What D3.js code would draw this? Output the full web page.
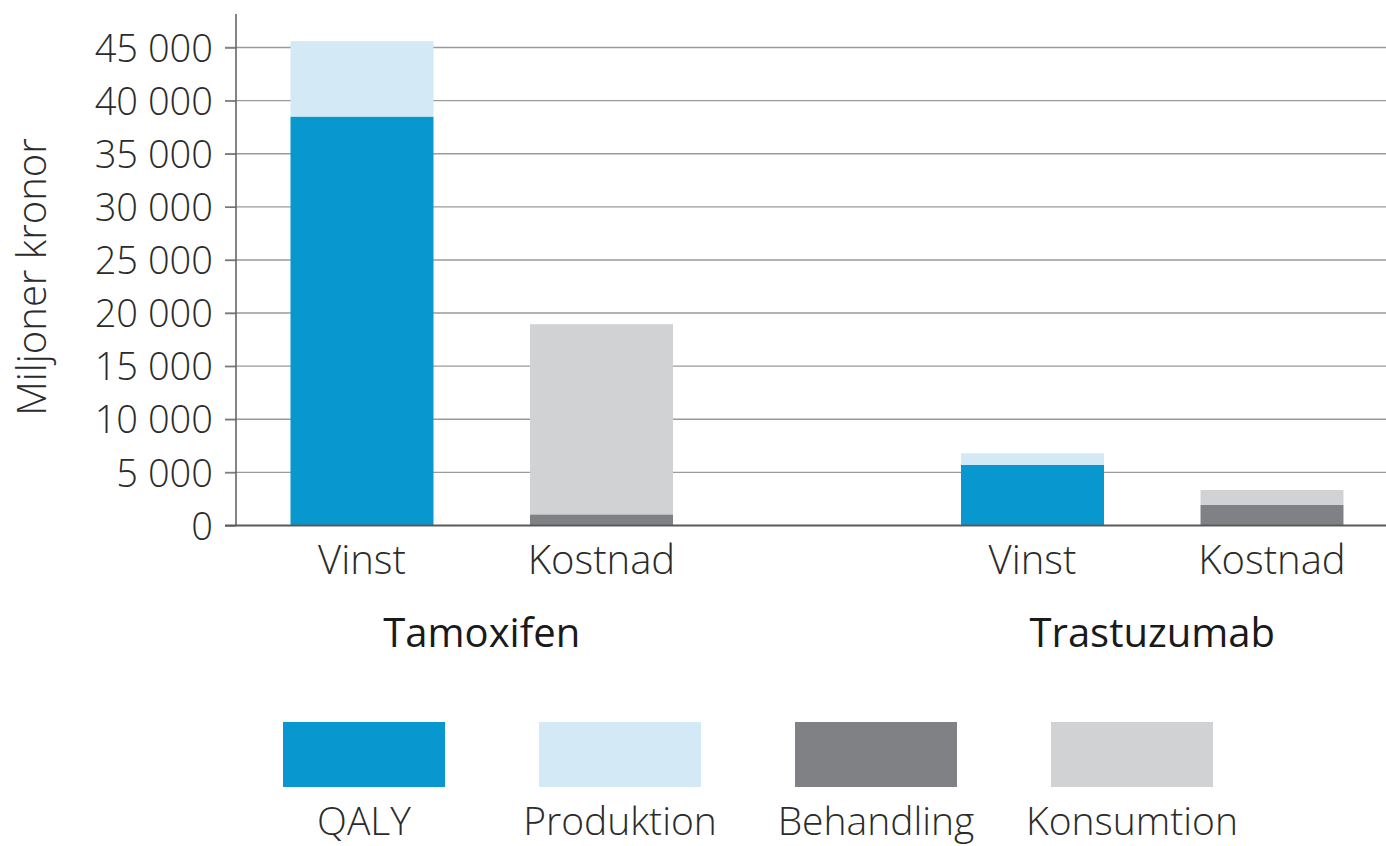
<!DOCTYPE html>
<html>
<head>
<meta charset="utf-8">
<script src="https://cdn.jsdelivr.net/npm/d3@7"></script>
<style>
  html, body { margin: 0; padding: 0; background: #fff; }
  svg { display: block; }
  text { font-family: "Open Sans", sans-serif; }
</style>
</head>
<body>
<svg id="chart" width="1386" height="846"></svg>
<script>
// ---- data ----
const groups = ["Tamoxifen", "Trastuzumab"];
const categories = ["Vinst", "Kostnad"];
const seriesKeys = ["QALY", "Produktion", "Behandling", "Konsumtion"];
// values per bar: Tamoxifen-Vinst, Tamoxifen-Kostnad, Trastuzumab-Vinst, Trastuzumab-Kostnad
const qaly       = [38500,     0, 5700,    0];
const produktion = [ 7100,     0, 1100,    0];
const behandling = [    0,  1050,    0, 1930];
const konsumtion = [    0, 17900,    0, 1410];
const tickValues = [0, 5000, 10000, 15000, 20000, 25000, 30000, 35000, 40000, 45000];
const colors = ["#0898cf", "#d3e9f5", "#808184", "#d1d2d4"];
const yTitle = "Miljoner kronor";

// ---- build rows ----
const rows = [];
groups.forEach((g, gi) => {
  categories.forEach((c, ci) => {
    const i = gi * categories.length + ci;
    rows.push({group: g, cat: c, QALY: qaly[i], Produktion: produktion[i], Behandling: behandling[i], Konsumtion: konsumtion[i]});
  });
});

const svg = d3.select("#chart");
const W = 1386;

const y = d3.scaleLinear().domain([0, 45000]).range([525.5, 47.5]);
const xGroup = d3.scalePoint().domain(groups).range([481.75, 1152.25]);
const xCat = d3.scaleBand().domain(categories).range([-239.5, 239.5]).paddingInner(0.403).paddingOuter(0.2015);

const axisX = 236;

// gridlines
svg.append("g").selectAll("line").data(tickValues.filter(d => d > 0)).join("line")
  .attr("x1", 225).attr("x2", W)
  .attr("y1", d => y(d)).attr("y2", d => y(d))
  .attr("stroke", "#9a9a9a").attr("stroke-width", 1.4);

// y axis
const yAxis = d3.axisLeft(y).tickValues(tickValues)
  .tickFormat(d => d3.format(",")(d).replace(/,/g, " "))
  .tickSize(11).tickPadding(12);
const gy = svg.append("g").attr("transform", `translate(${axisX},0)`).call(yAxis);
gy.select(".domain").remove();
gy.selectAll(".tick line").attr("stroke", "#777").attr("stroke-width", 1.4);
gy.selectAll(".tick text")
  .attr("fill", "#2b2b2b")
  .style("font-size", "38px").style("font-weight", 300)
  .attr("dy", "0.36em");

// vertical axis line
svg.append("line").attr("x1", axisX).attr("x2", axisX).attr("y1", 14).attr("y2", y(0))
  .attr("stroke", "#666").attr("stroke-width", 1.6);

// bars
const stack = d3.stack().keys(seriesKeys);
const stacked = stack(rows);
const barsG = svg.append("g");
stacked.forEach((layer, li) => {
  barsG.append("g").attr("fill", colors[li]).selectAll("rect").data(layer).join("rect")
    .attr("x", d => xGroup(d.data.group) + xCat(d.data.cat))
    .attr("width", xCat.bandwidth())
    .attr("y", d => y(d[1]))
    .attr("height", d => y(d[0]) - y(d[1]));
});

// zero line
svg.append("line").attr("x1", 225).attr("x2", W).attr("y1", y(0)).attr("y2", y(0))
  .attr("stroke", "#5a5a5a").attr("stroke-width", 2);

// category labels
svg.append("g").selectAll("text").data(rows).join("text")
  .attr("x", d => xGroup(d.group) + xCat(d.cat) + xCat.bandwidth() / 2)
  .attr("y", 574)
  .attr("text-anchor", "middle")
  .attr("fill", "#2b2b2b")
  .style("font-size", "40px").style("font-weight", 300)
  .text(d => d.cat);

// group labels
svg.append("g").selectAll("text").data(groups).join("text")
  .attr("x", d => xGroup(d))
  .attr("y", 647)
  .attr("text-anchor", "middle")
  .attr("fill", "#1a1a1a")
  .style("font-size", "40px").style("font-weight", 400)
  .text(d => d);

// y title
svg.append("text")
  .attr("transform", "translate(46,277) rotate(-90)")
  .attr("text-anchor", "middle")
  .attr("fill", "#2b2b2b")
  .style("font-size", "40px").style("font-weight", 300)
  .text(yTitle);

// legend
const xLeg = d3.scalePoint().domain(seriesKeys).range([364, 1132]);
const leg = svg.append("g").selectAll("g").data(seriesKeys).join("g")
  .attr("transform", d => `translate(${xLeg(d)},0)`);
leg.append("rect").attr("x", -81).attr("width", 162).attr("y", 722).attr("height", 65)
  .attr("fill", (d, i) => colors[i]);
leg.append("text").attr("x", 0).attr("y", 835).attr("text-anchor", "middle")
  .attr("fill", "#2b2b2b")
  .style("font-size", "39px").style("font-weight", 300)
  .text(d => d);
</script>
</body>
</html>
